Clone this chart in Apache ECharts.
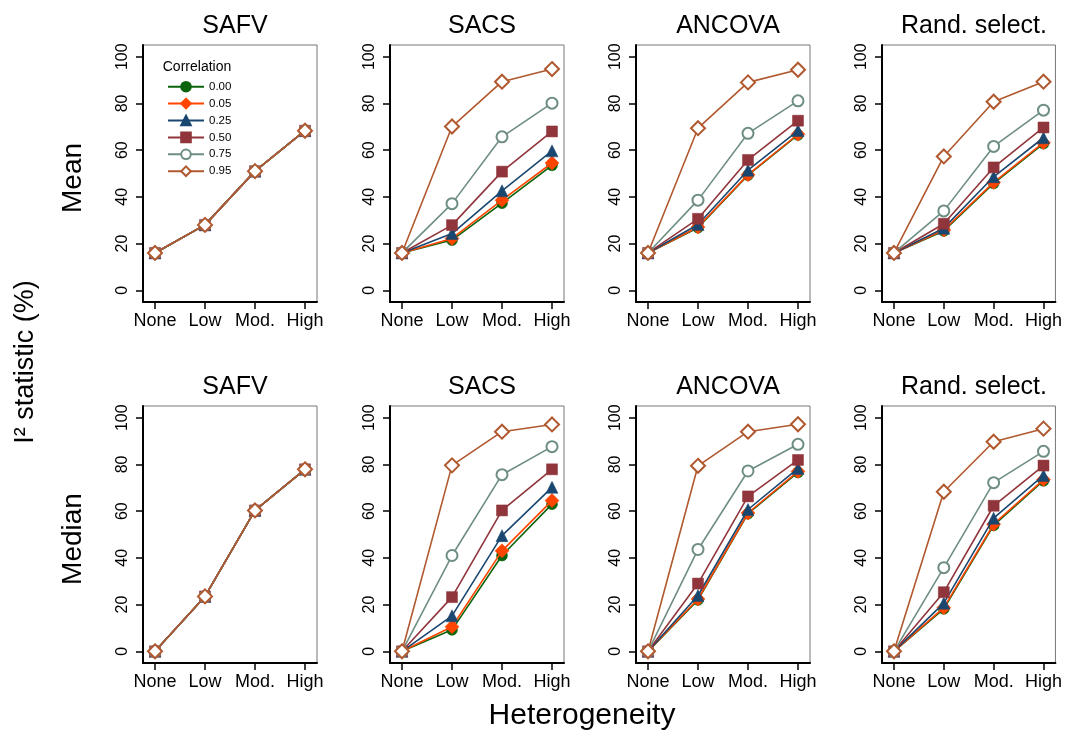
<!DOCTYPE html>
<html>
<head>
<meta charset="utf-8">
<script src="https://cdn.jsdelivr.net/npm/echarts@6/dist/echarts.min.js"></script>
<style>
html,body{margin:0;padding:0;background:#fff;}
#chart{width:1065px;height:730px;}
</style>
</head>
<body>
<div id="chart"></div>
<script>
// ---------- DATA ----------
const heterogeneity = ['None', 'Low', 'Mod.', 'High'];
const correlations = ['0.00', '0.05', '0.25', '0.50', '0.75', '0.95'];
const methods = ['SAFV', 'SACS', 'ANCOVA', 'Rand. select.'];
const yTicks = [0, 20, 40, 60, 80, 100];

// Mean I² (rows = correlations 0.00 ... 0.95)
const meanSAFV = [
  [16, 28, 51, 68.3],
  [16, 28, 51, 68.3],
  [16, 28, 51, 68.3],
  [16, 28, 51, 68.3],
  [16, 28, 51, 68.3],
  [16, 28, 51, 68.3]
];
const meanSACS = [
  [16, 21.5, 37.3, 53.5],
  [16, 22.2, 38.6, 54.5],
  [16, 24.3, 42.6, 59.7],
  [16, 27.9, 50.8, 68.0],
  [16, 37.1, 65.7, 80.1],
  [16, 70.1, 89.3, 94.7]
];
const meanANCOVA = [
  [16, 26.8, 49.3, 66.5],
  [16, 27.1, 49.5, 66.8],
  [16, 28.2, 51.4, 68.4],
  [16, 30.6, 55.8, 72.6],
  [16, 38.6, 67.2, 81.1],
  [16, 69.4, 89.0, 94.4]
];
const meanRand = [
  [16, 25.4, 45.8, 62.8],
  [16, 25.8, 46.2, 63.2],
  [16, 26.6, 48.6, 65.3],
  [16, 28.5, 52.6, 69.7],
  [16, 34.0, 61.6, 77.1],
  [16, 57.3, 80.7, 89.3]
];
// Median I²
const medianSAFV = [
  [0, 23.5, 60.3, 77.9],
  [0, 23.5, 60.3, 77.9],
  [0, 23.5, 60.3, 77.9],
  [0, 23.5, 60.3, 77.9],
  [0, 23.5, 60.3, 77.9],
  [0, 23.5, 60.3, 77.9]
];
const medianSACS = [
  [0, 9.2, 41.0, 63.0],
  [0, 10.5, 43.0, 64.5],
  [0, 15.2, 49.5, 70.2],
  [0, 23.2, 60.3, 77.9],
  [0, 41.0, 75.6, 87.6],
  [0, 79.6, 94.0, 97.1]
];
const medianANCOVA = [
  [0, 22.0, 58.9, 76.6],
  [0, 22.4, 59.2, 77.0],
  [0, 23.9, 60.7, 78.3],
  [0, 29.0, 66.3, 81.9],
  [0, 43.6, 77.2, 88.6],
  [0, 79.4, 94.0, 97.2]
];
const medianRand = [
  [0, 18.2, 53.9, 73.0],
  [0, 18.7, 54.4, 73.5],
  [0, 20.6, 57.0, 75.3],
  [0, 25.3, 62.3, 79.5],
  [0, 35.8, 72.2, 85.6],
  [0, 68.3, 89.7, 95.3]
];

// ---------- STYLE ----------
const FONT = '"Liberation Sans", Arial, Helvetica, sans-serif';
const colors = ['#0b640b', '#ff4500', '#1a476f', '#90353b', '#6e8e84', '#b0582e'];
const symbols = ['circle', 'diamond', 'triangle', 'rect', 'emptyCircle', 'emptyDiamond'];
const symSizes = [11, 14, 12, 11, 11, 14];

const panels = [
  meanSAFV, meanSACS, meanANCOVA, meanRand,
  medianSAFV, medianSACS, medianANCOVA, medianRand
];
const lefts = [143, 390, 636, 882];
const tops = [45, 406];
const W = 174, H = 257;

const grids = [], xAxes = [], yAxes = [], series = [], titles = [];
panels.forEach((panel, p) => {
  const col = p % 4, row = Math.floor(p / 4);
  grids.push({
    left: lefts[col], top: tops[row], width: W, height: H,
    show: true, borderColor: '#777', borderWidth: 1, backgroundColor: '#fff'
  });
  xAxes.push({
    gridIndex: p, type: 'value', min: -0.24, max: 3.24,
    splitLine: { show: false },
    axisLine: { show: true, onZero: false, lineStyle: { color: '#000', width: 2 } },
    axisTick: { show: true, customValues: [0, 1, 2, 3], length: 7, lineStyle: { color: '#000', width: 1.5 } },
    axisLabel: {
      customValues: [0, 1, 2, 3], margin: 10, color: '#000', fontSize: 18, fontFamily: FONT,
      formatter: v => heterogeneity[Math.round(v)]
    }
  });
  yAxes.push({
    gridIndex: p, type: 'value', min: -5, max: 105,
    splitLine: { show: false },
    axisLine: { show: true, onZero: false, lineStyle: { color: '#000', width: 2 } },
    axisTick: { show: true, customValues: yTicks, length: 7, lineStyle: { color: '#000', width: 1.5 } },
    axisLabel: {
      customValues: yTicks, rotate: 90, margin: 12, color: '#000', fontSize: 16, fontFamily: FONT
    }
  });
  titles.push({
    text: methods[col], left: lefts[col] + W / 2, top: row === 0 ? 9 : 370, textAlign: 'center',
    textStyle: { fontSize: 25, fontWeight: 'normal', color: '#000', fontFamily: FONT }
  });
  panel.forEach((vals, c) => {
    series.push({
      name: correlations[c], type: 'line', xAxisIndex: p, yAxisIndex: p,
      data: vals.map((v, i) => [i, v]),
      symbol: symbols[c], symbolSize: symSizes[c], showSymbol: true,
      lineStyle: { color: colors[c], width: 1.6 },
      itemStyle: { color: colors[c], borderColor: colors[c], borderWidth: c >= 4 ? 1.4 : 0.5 },
      emphasis: { disabled: true },
      animation: false, z: 2 + c
    });
  });
});

const chart = echarts.init(document.getElementById('chart'), null, { renderer: 'canvas' });
chart.setOption({
  backgroundColor: '#fff',
  animation: false,
  title: titles,
  grid: grids,
  xAxis: xAxes,
  yAxis: yAxes,
  series: series,
  legend: {
    data: correlations,
    orient: 'vertical', left: 167, top: 80.7, padding: 0,
    itemWidth: 36, itemHeight: 12, itemGap: 4.9,
    textStyle: { fontSize: 11.5, color: '#000', fontFamily: FONT },
    selectedMode: false
  },
  graphic: [
    { type: 'text', x: 197, y: 67, style: { text: 'Correlation', font: '14px ' + FONT, fill: '#000', textAlign: 'center', textVerticalAlign: 'middle' }, z: 100 },
    { type: 'text', x: 73, y: 178, rotation: Math.PI / 2, style: { text: 'Mean', font: '28px ' + FONT, fill: '#000', textAlign: 'center', textVerticalAlign: 'middle' } },
    { type: 'text', x: 73, y: 539, rotation: Math.PI / 2, style: { text: 'Median', font: '28px ' + FONT, fill: '#000', textAlign: 'center', textVerticalAlign: 'middle' } },
    { type: 'text', x: 26, y: 362, rotation: Math.PI / 2, style: { text: 'I² statistic (%)', font: '27px ' + FONT, fill: '#000', textAlign: 'center', textVerticalAlign: 'middle' } },
    { type: 'text', x: 582, y: 716, style: { text: 'Heterogeneity', font: '30px ' + FONT, fill: '#000', textAlign: 'center', textVerticalAlign: 'middle' } }
  ]
});
</script>
</body>
</html>
